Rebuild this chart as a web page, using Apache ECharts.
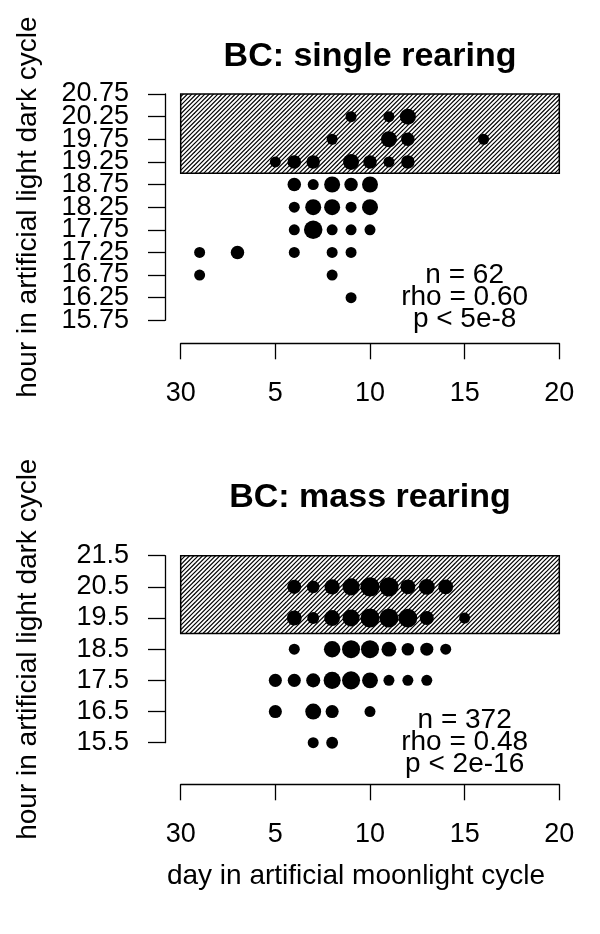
<!DOCTYPE html>
<html><head><meta charset="utf-8">
<script src="https://cdn.jsdelivr.net/npm/echarts@6/dist/echarts.min.js"></script>
<style>html,body{margin:0;padding:0;background:#fff}#c{width:600px;height:934px}</style>
</head><body><div id="c"></div>
<script>
// ---------- DATA ----------
const xTicks = [0, 5, 10, 15, 20];
const xTickLabels = ['30', '5', '10', '15', '20'];

// single rearing panel
const singleTitle = 'BC: single rearing';
const singleDays  = [9, 11, 12,  8, 11, 12, 16,  5, 6, 7, 9, 10, 11, 12,  6, 7, 8, 9, 10,  6, 7, 8, 9, 10,  6, 7, 8, 9, 10,  1, 3, 6, 8, 9,  1, 8,  9];
const singleHours = [20.25, 20.25, 20.25,  19.75, 19.75, 19.75, 19.75,  19.25, 19.25, 19.25, 19.25, 19.25, 19.25, 19.25,
                     18.75, 18.75, 18.75, 18.75, 18.75,  18.25, 18.25, 18.25, 18.25, 18.25,  17.75, 17.75, 17.75, 17.75, 17.75,
                     17.25, 17.25, 17.25, 17.25, 17.25,  16.75, 16.75,  16.25];
const singleCounts = [1, 1, 3,  1, 3, 2, 1,  1, 2, 2, 3, 2, 1, 2,  2, 1, 3, 2, 3,  1, 3, 3, 1, 3,  1, 4, 1, 1, 1,  1, 2, 1, 1, 1,  1, 1,  1];
const singleYTicks = ['15.75', '16.25', '16.75', '17.25', '17.75', '18.25', '18.75', '19.25', '19.75', '20.25', '20.75'];
const singleYMin = 15.75, singleYMax = 20.75, singleYStep = 0.5;
const singleBand = [0, 20, 19.0, 20.75];
const singleStats = 'n = 62\nrho = 0.60\np < 5e-8';
const singleStatPos = [15, 16.25];

// mass rearing panel
const massTitle = 'BC: mass rearing';
const massDays  = [6, 7, 8, 9, 10, 11, 12, 13, 14,  6, 7, 8, 9, 10, 11, 12, 13, 15,  6, 8, 9, 10, 11, 12, 13, 14,
                   5, 6, 7, 8, 9, 10, 11, 12, 13,  5, 7, 8, 10,  7, 8];
const massHours = [20.5, 20.5, 20.5, 20.5, 20.5, 20.5, 20.5, 20.5, 20.5,
                   19.5, 19.5, 19.5, 19.5, 19.5, 19.5, 19.5, 19.5, 19.5,
                   18.5, 18.5, 18.5, 18.5, 18.5, 18.5, 18.5, 18.5,
                   17.5, 17.5, 17.5, 17.5, 17.5, 17.5, 17.5, 17.5, 17.5,
                   16.5, 16.5, 16.5, 16.5,  15.5, 15.5];
const massCounts = [6, 3, 9, 15, 24, 24, 8, 11, 8,  8, 2, 11, 15, 23, 23, 22, 6, 1,  1, 13, 19, 19, 8, 3, 4, 1,
                    4, 4, 6, 15, 19, 11, 1, 1, 1,  4, 11, 4, 1,  1, 2];
const massYTicks = ['15.5', '16.5', '17.5', '18.5', '19.5', '20.5', '21.5'];
const massYMin = 15.5, massYMax = 21.5, massYStep = 1;
const massBand = [0, 20, 19.0, 21.5];
const massStats = 'n = 372\nrho = 0.48\np < 2e-16';
const massStatPos = [15, 15.5];

const xLabel = 'day in artificial moonlight cycle';
const yLabel = 'hour in artificial light dark cycle';

// ---------- STYLE / BUILD ----------
const FONT = '"Liberation Sans", Arial, Helvetica, sans-serif';
const Y_OFFSET = 15.7, Y_MARGIN = 36;

function hatchPattern() {
  const s = 13, c = document.createElement('canvas');
  c.width = s; c.height = s;
  const g = c.getContext('2d');
  g.fillStyle = '#fff'; g.fillRect(0, 0, s, s);
  g.strokeStyle = '#000'; g.lineWidth = 1.2;
  for (let k = -1; k <= 7; k++) {
    const d = k * s / 3;
    g.beginPath(); g.moveTo(d + 3, -3); g.lineTo(d - s - 3, s + 3); g.stroke();
  }
  return c;
}
const pat = hatchPattern();

const grids = [
  { left: 180.7, top: 94, width: 378.6, height: 226.3, containLabel: false, outerBoundsMode: 'none' },
  { left: 180.7, top: 555.7, width: 378.6, height: 187, containLabel: false, outerBoundsMode: 'none' }
];

function xAxisFor(idx, offset) {
  return {
    type: 'value', gridIndex: idx, min: 0, max: 20, interval: 5, offset: offset,
    axisLine: { show: true, onZero: false, lineStyle: { color: '#000', width: 1.3 } },
    axisTick: { show: true, length: 16, lineStyle: { color: '#000', width: 1.3 } },
    axisLabel: { show: true, margin: 37, color: '#000', fontSize: 27, fontFamily: FONT,
      showMinLabel: true, showMaxLabel: true,
      formatter: v => { const i = xTicks.indexOf(v); return i >= 0 ? xTickLabels[i] : ''; } },
    splitLine: { show: false }
  };
}
function yAxisFor(idx, span, step) {
  return {
    type: 'value', gridIndex: idx, min: 0, max: span, interval: step, offset: Y_OFFSET,
    name: yLabel, nameLocation: 'middle', nameGap: 123,
    nameTextStyle: { color: '#000', fontSize: 28, fontFamily: FONT },
    axisLine: { show: true, onZero: false, lineStyle: { color: '#000', width: 1.3 } },
    axisTick: { show: true, length: 17, lineStyle: { color: '#000', width: 1.3 } },
    axisLabel: { show: false },
    splitLine: { show: false }
  };
}

function panelSeries(idx, days, hours, counts, base, band, sizeFn) {
  return [
    { type: 'scatter', xAxisIndex: idx, yAxisIndex: idx, data: [], z: 1, silent: true,
      markArea: { silent: true,
        itemStyle: { color: { image: pat, repeat: 'repeat' }, borderColor: '#000', borderWidth: 1.5, opacity: 1 },
        label: { show: false },
        data: [[{ coord: [band[0], band[2] - base] }, { coord: [band[1], band[3] - base] }]] } },
    { type: 'scatter', xAxisIndex: idx, yAxisIndex: idx, z: 5, silent: true, clip: false,
      data: days.map((d, i) => [d, hours[i] - base, counts[i]]),
      symbol: 'circle', symbolSize: v => sizeFn(v[2]),
      itemStyle: { color: '#000', opacity: 1 } }
  ];
}

const titleGraphics = [
  { type: 'text', x: 370, y: 57, silent: true,
    style: { text: singleTitle, font: 'bold 34px ' + FONT, fill: '#000', align: 'center', verticalAlign: 'middle' } },
  { type: 'text', x: 370, y: 498, silent: true,
    style: { text: massTitle, font: 'bold 34px ' + FONT, fill: '#000', align: 'center', verticalAlign: 'middle' } },
  { type: 'text', x: 356, y: 876.3, silent: true,
    style: { text: xLabel, font: '28px ' + FONT, fill: '#000', align: 'center', verticalAlign: 'middle' } }
];

const option = {
  animation: false,
  backgroundColor: '#fff',
  grid: grids,
  xAxis: [xAxisFor(0, 23), xAxisFor(1, 41.6)],
  yAxis: [
    yAxisFor(0, singleYMax - singleYMin, singleYStep),
    yAxisFor(1, massYMax - massYMin, massYStep)
  ],
  series: [
    ...panelSeries(0, singleDays, singleHours, singleCounts, singleYMin, singleBand, c => 8.5 + 2.5 * c),
    ...panelSeries(1, massDays, massHours, massCounts, massYMin, massBand, c => 8.9 + 2.1 * Math.sqrt(c))
  ],
  graphic: titleGraphics
};

const chart = echarts.init(document.getElementById('c'), null, { renderer: 'canvas', width: 600, height: 934 });
chart.setOption(option);

// texts positioned through the axes' own scales
const extra = [];
function yTickTexts(gridIndex, ticks, base) {
  ticks.forEach(t => {
    const p = chart.convertToPixel({ gridIndex }, [0, parseFloat(t) - base]);
    extra.push({ type: 'text', x: p[0] - Y_OFFSET - Y_MARGIN, y: p[1], silent: true, z: 10,
      style: { text: t, font: '27px ' + FONT, fill: '#000', align: 'right', verticalAlign: 'middle' } });
  });
}
yTickTexts(0, singleYTicks, singleYMin);
yTickTexts(1, massYTicks, massYMin);

function statText(gridIndex, pos, base, txt) {
  const p = chart.convertToPixel({ gridIndex }, [pos[0], pos[1] - base]);
  extra.push({ type: 'text', x: p[0], y: p[1], silent: true, z: 10,
    style: { text: txt, font: '28px ' + FONT, lineHeight: 22, fill: '#000', align: 'center', verticalAlign: 'middle' } });
}
statText(0, singleStatPos, singleYMin, singleStats);
statText(1, massStatPos, massYMin, massStats);

chart.setOption({ graphic: titleGraphics.concat(extra) });
</script></body></html>
